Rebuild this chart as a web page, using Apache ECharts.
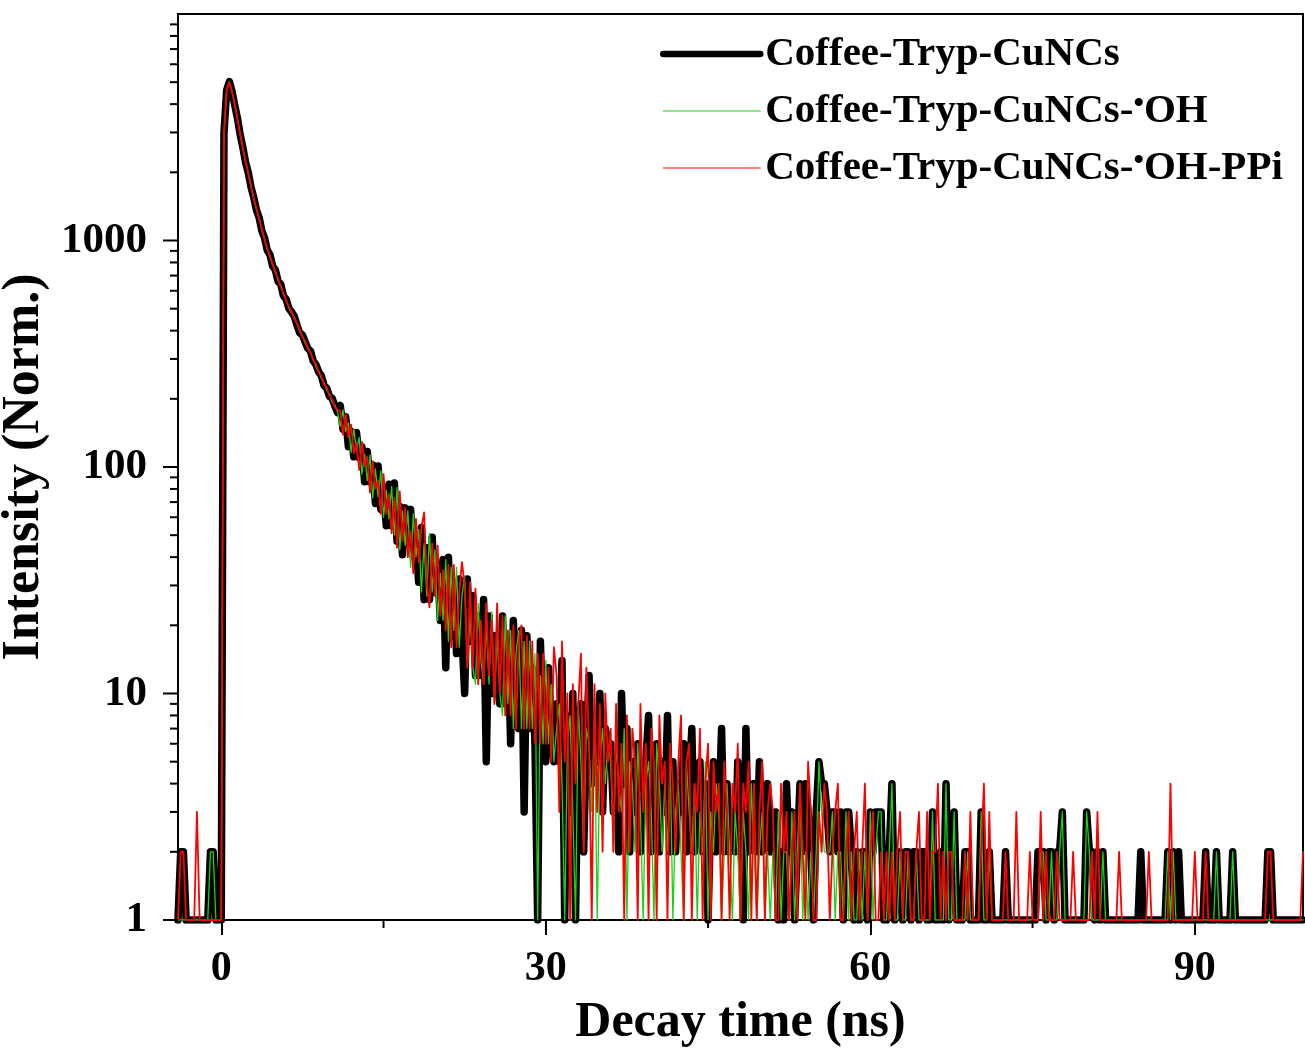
<!DOCTYPE html>
<html>
<head>
<meta charset="utf-8">
<script src="https://cdn.jsdelivr.net/npm/echarts@6/dist/echarts.min.js"></script>
<style>
  html, body { margin: 0; padding: 0; background: #fff; }
  #chart { width: 1305px; height: 1049px; }
</style>
</head>
<body>
<div id="chart"></div>
<script>
// channel times: t = T0 + i * DT (ns)
const T0 = -4
const DT = 0.25

// counts, one row = 5 ns
const countsPlain = [
  1, 2, 2, 1, 1, 1, 1, 1, 1, 1, 1, 1, 2, 2, 1, 1, 1, 2980, 4610, 5030,
  4540, 3950, 3460, 2930, 2570, 2210, 1990, 1720, 1550, 1365, 1262, 1104, 1028, 905, 866, 771, 741, 660, 641, 570,
  550, 501, 483, 463, 423, 391, 383, 357, 334, 325, 294, 283, 263, 253, 229, 223, 205, 201, 186, 174,
  187, 147, 167, 123, 144, 111, 142, 110, 123, 86, 117, 86, 102, 69, 101, 65, 81, 55, 84, 55,
  85, 47, 67, 41, 66, 46, 65, 40, 48, 31, 54, 26, 44, 26, 49, 28, 37, 21, 39, 13,
  40, 18, 30, 15, 32, 18, 10, 32, 17, 27, 12, 22, 12, 26, 5, 22, 10, 18, 11, 9,
  22, 9, 17, 6, 21, 9, 7, 19, 3, 18, 7, 13, 6, 1, 17, 7, 5, 13, 7, 5,
  9, 5, 14, 1, 8, 3, 10, 1, 7, 9, 2, 6, 12, 4, 8, 5, 10, 3, 7, 6,
  6, 3, 5, 2, 10, 4, 7, 2, 5, 3, 6, 2, 4, 5, 8, 2, 4, 6, 2, 5,
  3, 8, 2, 5, 2, 4, 3, 6, 2, 4, 7, 2, 3, 5, 2, 4, 1, 3, 5, 2,
  3, 7, 2, 4, 2, 3, 2, 5, 3, 1, 7, 2, 3, 4, 2, 5, 2, 3, 4, 2,
  2, 3, 1, 2, 1, 4, 2, 3, 1, 2, 4, 2, 4, 3, 2, 1, 3, 5, 4, 4,
  3, 2, 3, 3, 2, 3, 1, 3, 3, 2, 1, 2, 1, 2, 2, 1, 3, 2, 3, 3,
  3, 1, 1, 2, 4, 1, 2, 2, 1, 2, 2, 1, 2, 2, 1, 2, 2, 1, 1, 3,
  1, 1, 2, 1, 4, 1, 2, 3, 1, 1, 1, 2, 2, 1, 1, 1, 1, 3, 1, 1,
  2, 1, 1, 1, 1, 1, 2, 1, 1, 1, 1, 1, 1, 1, 1, 1, 1, 1, 2, 2,
  2, 1, 2, 2, 1, 2, 2, 3, 1, 1, 1, 1, 1, 1, 1, 1, 3, 2, 2, 1,
  2, 1, 2, 1, 1, 1, 1, 1, 1, 1, 1, 1, 1, 1, 1, 1, 2, 1, 1, 1,
  1, 1, 1, 1, 1, 1, 2, 1, 2, 1, 2, 1, 1, 1, 1, 1, 1, 1, 1, 1,
  2, 1, 1, 1, 2, 1, 1, 1, 1, 1, 2, 1, 1, 1, 1, 1, 1, 1, 1, 1,
  1, 1, 1, 2, 2, 1, 1, 1, 1, 1, 1, 1, 1, 1, 1, 1, 1
]

const countsOH = [
  1, 1, 1, 1, 1, 1, 1, 1, 1, 1, 1, 1, 2, 2, 1, 1, 1, 2950, 4590, 5010,
  4530, 3965, 3445, 2940, 2555, 2225, 1980, 1730, 1540, 1372, 1255, 1112, 1018, 912, 858, 778, 733, 666, 634, 576,
  546, 505, 478, 458, 429, 396, 380, 352, 338, 319, 300, 277, 266, 246, 236, 218, 210, 193, 188, 175,
  151, 179, 143, 157, 116, 147, 118, 135, 93, 114, 87, 113, 73, 98, 74, 96, 60, 79, 59, 82,
  50, 81, 43, 64, 45, 64, 36, 62, 40, 53, 28, 46, 27, 51, 28, 43, 21, 34, 21, 39,
  17, 36, 19, 36, 16, 27, 33, 13, 22, 13, 11, 25, 14, 11, 20, 11, 23, 9, 18, 10,
  8, 22, 9, 19, 7, 15, 19, 7, 17, 7, 17, 7, 15, 1, 12, 6, 14, 6, 11, 5,
  7, 9, 4, 1, 6, 8, 3, 1, 9, 5, 2, 7, 6, 3, 8, 1, 5, 7, 4, 6,
  5, 2, 6, 4, 3, 7, 1, 5, 4, 2, 6, 3, 1, 4, 5, 3, 1, 6, 4, 2,
  4, 2, 5, 1, 3, 4, 2, 1, 5, 3, 2, 4, 1, 3, 2, 5, 1, 3, 2, 4,
  3, 1, 2, 4, 2, 1, 3, 2, 1, 3, 2, 1, 4, 2, 1, 2, 3, 1, 2, 1,
  2, 1, 3, 1, 2, 2, 1, 3, 1, 2, 4, 1, 2, 1, 2, 1, 2, 5, 3, 2,
  2, 2, 3, 1, 2, 2, 1, 3, 1, 2, 1, 1, 2, 1, 2, 1, 3, 1, 2, 3,
  3, 1, 1, 2, 4, 1, 1, 2, 1, 1, 2, 1, 1, 2, 1, 1, 1, 1, 1, 3,
  1, 1, 1, 1, 4, 1, 1, 3, 1, 1, 1, 1, 2, 1, 1, 1, 1, 3, 1, 1,
  2, 1, 1, 1, 1, 1, 1, 1, 1, 1, 1, 1, 1, 1, 1, 1, 1, 1, 1, 2,
  2, 1, 1, 2, 1, 1, 2, 3, 1, 1, 1, 1, 1, 1, 1, 1, 3, 2, 1, 1,
  1, 1, 2, 1, 1, 1, 1, 1, 1, 1, 1, 1, 1, 1, 1, 1, 1, 1, 1, 1,
  1, 1, 1, 1, 1, 1, 2, 1, 2, 1, 1, 1, 1, 1, 1, 1, 1, 1, 1, 1,
  1, 1, 1, 1, 2, 1, 1, 1, 1, 1, 2, 1, 1, 1, 1, 1, 1, 1, 1, 1,
  1, 1, 1, 1, 1, 1, 1, 1, 1, 1, 1, 1, 1, 1, 1, 1, 1
]

const countsOHPPi = [
  1, 2, 2, 1, 1, 1, 1, 3, 1, 1, 1, 1, 1, 1, 1, 1, 1, 3010, 4630, 5000,
  4510, 3990, 3420, 2960, 2530, 2245, 1962, 1748, 1526, 1388, 1240, 1126, 1006, 926, 846, 790, 720, 678, 622, 587,
  540, 512, 485, 450, 431, 405, 374, 360, 333, 320, 295, 285, 261, 252, 231, 225, 206, 199, 183, 179,
  177, 139, 171, 135, 154, 115, 128, 97, 129, 101, 111, 77, 106, 80, 87, 62, 93, 62, 76, 51,
  73, 44, 78, 47, 66, 40, 52, 34, 59, 38, 54, 63, 31, 24, 46, 27, 45, 22, 35, 19,
  37, 16, 37, 16, 28, 38, 30, 13, 31, 13, 29, 11, 21, 11, 25, 12, 21, 9, 25, 10,
  22, 8, 19, 8, 20, 7, 17, 20, 7, 18, 7, 17, 6, 15, 6, 15, 6, 13, 5, 16,
  12, 3, 17, 5, 10, 1, 11, 4, 9, 15, 2, 13, 6, 1, 11, 3, 9, 2, 10, 5,
  7, 2, 9, 3, 6, 1, 8, 2, 7, 5, 1, 9, 3, 6, 1, 7, 5, 1, 8, 4,
  5, 1, 6, 4, 2, 5, 8, 1, 5, 6, 1, 4, 3, 7, 1, 4, 6, 1, 5, 3,
  4, 1, 5, 3, 1, 4, 3, 6, 1, 4, 3, 5, 1, 4, 1, 3, 5, 1, 3, 4,
  3, 1, 1, 4, 2, 3, 1, 2, 3, 1, 4, 2, 1, 5, 3, 1, 1, 3, 2, 4,
  3, 1, 2, 3, 4, 1, 1, 2, 3, 1, 2, 3, 1, 2, 4, 1, 2, 3, 1, 1,
  2, 1, 2, 1, 2, 1, 2, 3, 1, 2, 2, 1, 1, 2, 3, 1, 1, 3, 1, 2,
  2, 4, 1, 2, 1, 2, 2, 1, 1, 1, 1, 2, 1, 3, 1, 1, 1, 2, 4, 1,
  3, 1, 1, 1, 1, 1, 2, 1, 1, 1, 3, 1, 1, 1, 1, 2, 1, 1, 1, 3,
  1, 2, 1, 1, 1, 2, 1, 1, 1, 1, 1, 2, 1, 1, 1, 1, 1, 1, 2, 1,
  3, 1, 1, 1, 1, 1, 1, 1, 2, 1, 1, 1, 1, 1, 1, 1, 1, 1, 1, 2,
  1, 1, 1, 1, 1, 1, 1, 4, 1, 1, 1, 1, 1, 1, 1, 1, 2, 1, 1, 1,
  2, 1, 1, 1, 1, 1, 1, 1, 1, 1, 1, 1, 1, 1, 1, 1, 1, 1, 1, 1,
  1, 1, 1, 2, 2, 1, 1, 1, 1, 1, 1, 1, 1, 1, 1, 1, 2
]

const xLabels = [0, 30, 60, 90]
const xMinor = [15, 45, 75]
const yLabels = [1, 10, 100, 1000]
const yMinor = [2, 3, 4, 5, 6, 7, 8, 9, 20, 30, 40, 50, 60, 70, 80, 90,
  200, 300, 400, 500, 600, 700, 800, 900, 2000, 3000, 4000, 5000, 6000, 7000, 8000, 9000]

const names = ['Coffee-Tryp-CuNCs', 'Coffee-Tryp-CuNCs-•OH', 'Coffee-Tryp-CuNCs-•OH-PPi']
const colors = ['#000000', '#14d414', '#ff0000']
const widths = [7.5, 1.3, 1.8]
const FONT = 'Liberation Serif'

function toPairs(arr) {
  return arr.map((v, i) => [T0 + i * DT, v])
}

// tick marks drawn through the axis scales: [x, y, length, vertical?]
const tickData = []
yLabels.forEach(v => tickData.push([T0, v, 15, 0]))
yMinor.forEach(v => tickData.push([T0, v, 8, 0]))
xMinor.forEach(v => tickData.push([v, 1, 8, 1]))

const chart = echarts.init(document.getElementById('chart'))

const lineSeries = [countsPlain, countsOH, countsOHPPi].map((arr, i) => ({
  name: names[i],
  type: 'line',
  data: toPairs(arr),
  showSymbol: false,
  symbol: 'none',
  lineStyle: { color: colors[i], width: widths[i], join: 'round', cap: 'round' },
  itemStyle: { color: colors[i] },
  z: 2 + i
}))

chart.setOption({
  animation: false,
  backgroundColor: '#fff',
  grid: {
    left: 178,
    right: 2,
    top: 14,
    bottom: 129,
    outerBoundsMode: 'none',
    containLabel: false,
    show: true,
    borderColor: '#000',
    borderWidth: 2
  },
  legend: {
    data: names.map((n, i) => ({ name: n, lineStyle: { width: i === 0 ? 6.5 : 1.2 } })),
    orient: 'vertical',
    left: 655,
    top: 27,
    itemWidth: 97,
    itemHeight: 14,
    itemGap: 13,
    itemStyle: { opacity: 0 },
    textStyle: {
      fontFamily: FONT,
      fontWeight: 'bold',
      fontSize: 41,
      lineHeight: 44,
      color: '#000',
      rich: {
        a: { fontFamily: FONT, fontWeight: 'bold', fontSize: 41, lineHeight: 44, color: '#000' },
        s: { fontFamily: FONT, fontWeight: 'bold', fontSize: 30, lineHeight: 28, verticalAlign: 'top', color: '#000' }
      }
    },
    formatter(name) {
      const parts = name.split('•')
      if (parts.length === 1) return '{a|' + name + '}'
      return '{a|' + parts[0] + '}{s|•}{a|' + parts[1] + '}'
    }
  },
  xAxis: {
    type: 'value',
    min: -4,
    max: 100,
    name: 'Decay time (ns)',
    nameLocation: 'middle',
    nameGap: 78,
    nameTextStyle: { fontFamily: FONT, fontWeight: 'bold', fontSize: 50, color: '#000' },
    axisLine: { onZero: false, lineStyle: { color: '#000', width: 2 } },
    axisTick: { customValues: xLabels, length: 15, lineStyle: { color: '#000', width: 2 } },
    axisLabel: { customValues: xLabels, margin: 28, fontFamily: FONT, fontWeight: 'bold', fontSize: 42, color: '#000' },
    splitLine: { show: false }
  },
  yAxis: {
    type: 'log',
    logBase: 10,
    min: 1,
    max: 10000,
    name: 'Intensity (Norm.)',
    nameLocation: 'middle',
    nameGap: 115,
    nameTextStyle: { fontFamily: FONT, fontWeight: 'bold', fontSize: 52, color: '#000' },
    axisLine: { onZero: false, lineStyle: { color: '#000', width: 2 } },
    axisTick: { show: false },
    axisLabel: {
      showMaxLabel: false,
      margin: 31,
      fontFamily: FONT,
      fontWeight: 'bold',
      fontSize: 43,
      color: '#000',
      formatter: v => (v >= 10000 ? '' : String(v))
    },
    splitLine: { show: false }
  },
  series: lineSeries.concat([
    {
      type: 'custom',
      silent: true,
      clip: false,
      z: 10,
      data: tickData,
      renderItem(params, api) {
        const p = api.coord([api.value(0), api.value(1)])
        const len = api.value(2)
        const shape = api.value(3)
          ? { x1: p[0], y1: p[1], x2: p[0], y2: p[1] + len }
          : { x1: p[0] - len, y1: p[1], x2: p[0], y2: p[1] }
        return { type: 'line', shape, style: { stroke: '#000', lineWidth: 2 } }
      }
    }
  ])
})
</script>
</body>
</html>
